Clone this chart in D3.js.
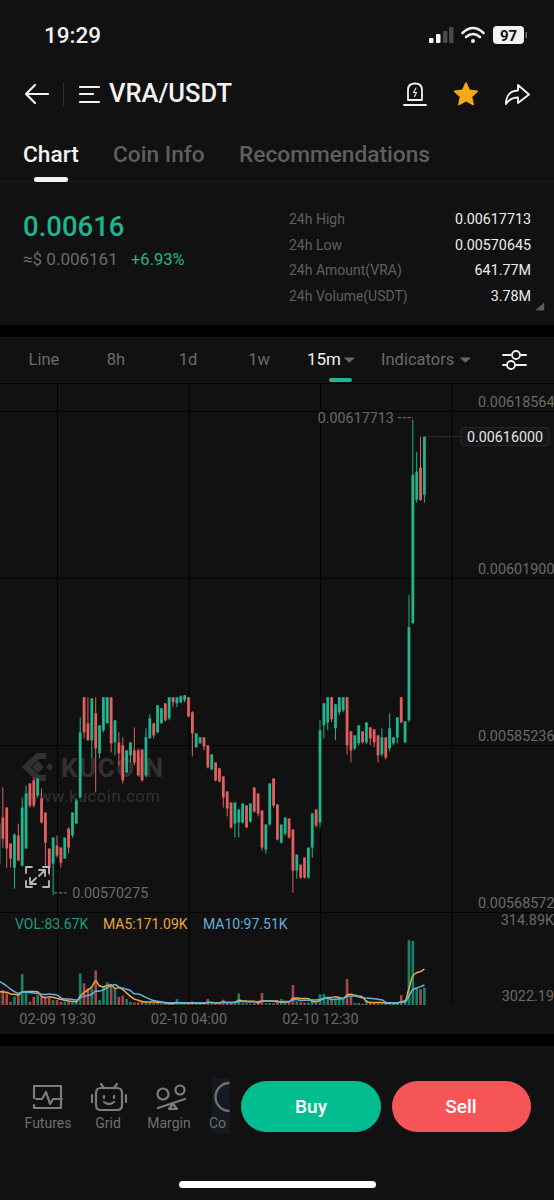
<!DOCTYPE html>
<html>
<head>
<meta charset="utf-8">
<script src="https://cdn.jsdelivr.net/npm/d3@7"></script>
<style>
  html, body { margin: 0; padding: 0; background: #111112; }
  svg { display: block; font-family: Roboto, sans-serif; }
</style>
</head>
<body>
<svg id="Target" width="554" height="1200"></svg>
<script>
// 15m candles, 02-09 15:45 to 02-10 19:15
const firstBar = "02-09 15:45";

const opens = [
  0.005734,0.005780,0.005790,0.005754,0.005730,0.005762,0.005732,0.005749,0.005814,0.005817,0.005802,0.005799,0.005785,0.005749,0.005734,
  0.005752,0.005750,0.005739,0.005769,0.005762,0.005774,0.005800,0.005900,0.005874,0.005857,0.005884,0.005844,0.005867,0.005874,0.005900,
  0.005855,0.005855,0.005852,0.005825,0.005842,0.005847,0.005847,0.005848,0.005822,0.005859,0.005874,0.005865,0.005874,0.005894,0.005879,
  0.005900,0.005894,0.005895,0.005897,0.005900,0.005885,0.005850,0.005854,0.005860,0.005852,0.005828,0.005835,0.005829,0.005821,0.005806,
  0.005795,0.005774,0.005775,0.005775,0.005792,0.005776,0.005810,0.005804,0.005787,0.005748,0.005773,0.005819,0.005793,0.005755,0.005764,
  0.005779,0.005768,0.005727,0.005733,0.005740,0.005720,0.005750,0.005788,0.005775,0.005872,0.005875,0.005900,0.005869,0.005885,0.005887,
  0.005900,0.005866,0.005849,0.005854,0.005866,0.005855,0.005870,0.005868,0.005862,0.005843,0.005860,0.005849,0.005854,0.005860,0.005900,
  0.005855,0.005877,0.005974,0.006097,0.006129,0.006102
];
const highs = [
  0.005784,0.005810,0.005790,0.005754,0.005764,0.005774,0.005800,0.005812,0.005814,0.005820,0.005819,0.005809,0.005785,0.005749,0.005760,
  0.005762,0.005750,0.005760,0.005770,0.005785,0.005799,0.005880,0.005900,0.005900,0.005899,0.005900,0.005872,0.005900,0.005900,0.005900,
  0.005877,0.005865,0.005860,0.005847,0.005855,0.005870,0.005849,0.005848,0.005869,0.005883,0.005874,0.005892,0.005889,0.005894,0.005900,
  0.005900,0.005900,0.005902,0.005902,0.005900,0.005886,0.005864,0.005860,0.005860,0.005852,0.005843,0.005835,0.005829,0.005821,0.005806,
  0.005795,0.005795,0.005788,0.005794,0.005792,0.005794,0.005810,0.005804,0.005787,0.005773,0.005814,0.005819,0.005793,0.005773,0.005780,
  0.005779,0.005768,0.005743,0.005733,0.005740,0.005750,0.005784,0.005788,0.005877,0.005894,0.005900,0.005900,0.005893,0.005900,0.005900,
  0.005900,0.005866,0.005862,0.005872,0.005866,0.005875,0.005870,0.005868,0.005862,0.005869,0.005860,0.005884,0.005860,0.005880,0.005900,
  0.005876,0.006002,0.00617713,0.006145,0.006160,0.006160
];
const lows = [
  0.005723,0.005750,0.005730,0.005730,0.005709,0.005737,0.005731,0.005749,0.005790,0.005790,0.005800,0.005774,0.005730,0.005722,0.00570275,
  0.005740,0.005730,0.005739,0.005744,0.005760,0.005774,0.005800,0.005859,0.005857,0.005839,0.005805,0.005839,0.005865,0.005874,0.005845,
  0.005842,0.005832,0.005814,0.005824,0.005835,0.005832,0.005822,0.005816,0.005820,0.005859,0.005859,0.005864,0.005874,0.005876,0.005877,
  0.005890,0.005890,0.005894,0.005895,0.005880,0.005841,0.005850,0.005854,0.005847,0.005829,0.005827,0.005816,0.005815,0.005790,0.005781,
  0.005769,0.005760,0.005760,0.005774,0.005770,0.005775,0.005785,0.005781,0.005747,0.005744,0.005772,0.005790,0.005757,0.005754,0.005762,
  0.005759,0.005705,0.005719,0.005719,0.005719,0.005719,0.005740,0.005770,0.005770,0.005859,0.005867,0.005875,0.005857,0.005882,0.005885,
  0.005843,0.005835,0.005847,0.005852,0.005854,0.005853,0.005852,0.005850,0.005835,0.005841,0.005838,0.005846,0.005852,0.005854,0.005874,
  0.005854,0.005875,0.005973,0.006094,0.006096,0.006094
];
const closes = [
  0.005774,0.005759,0.005749,0.005739,0.005763,0.005737,0.005790,0.005804,0.005792,0.005792,0.005819,0.005775,0.005755,0.005730,0.005760,
  0.005742,0.005735,0.005760,0.005750,0.005785,0.005797,0.005865,0.005865,0.005857,0.005899,0.005849,0.005872,0.005900,0.005900,0.005854,
  0.005877,0.005844,0.005817,0.005847,0.005855,0.005835,0.005822,0.005817,0.005860,0.005879,0.005862,0.005892,0.005889,0.005877,0.005900,
  0.005895,0.005900,0.005901,0.005902,0.005881,0.005864,0.005864,0.005860,0.005851,0.005830,0.005843,0.005817,0.005816,0.005800,0.005789,
  0.005770,0.005795,0.005788,0.005794,0.005770,0.005794,0.005786,0.005784,0.005750,0.005773,0.005814,0.005792,0.005758,0.005773,0.005780,
  0.005760,0.005727,0.005743,0.005720,0.005720,0.005750,0.005784,0.005772,0.005867,0.005894,0.005900,0.005878,0.005893,0.005900,0.005900,
  0.005852,0.005847,0.005862,0.005872,0.005855,0.005875,0.005859,0.005855,0.005842,0.005860,0.005840,0.005869,0.005860,0.005880,0.005875,
  0.005876,0.005970,0.006122,0.006125,0.006097,0.006160
];

// volume per bar, thousands
const volumes = [
  73,73,56,16,40,56,150,65,16,40,48,40,36,36,24,
  24,16,16,16,13,16,153,105,81,81,168,24,89,110,97,
  81,40,45,29,16,13,13,16,16,16,10,10,6,6,6,5,
  29,5,5,6,16,8,6,8,29,8,6,5,26,13,10,10,
  56,10,8,6,10,13,58,8,10,8,
  13,29,10,13,97,19,16,13,13,24,13,52,
  53,40,24,32,32,29,126,40,10,10,6,24,
  13,10,8,8,6,10,6,10,48,24,
  314.89,310,84,77,83.67
];
// bars just left of the screen, needed for the moving averages
const volumesBefore = [190,180,170,160,139,80,65,55,50];

const priceTicks = [0.00568572, 0.00585236, 0.00601900, 0.00618564];
const timeTicks = ["02-09 19:30", "02-10 04:00", "02-10 12:30", "02-10 21:00"];
const volumeLabels = ["314.89K", "3022.19"];
const lastPrice = 0.00616;

const statLabels = ["24h High", "24h Low", "24h Amount(VRA)", "24h Volume(USDT)"];
const statValues = ["0.00617713", "0.00570645", "641.77M", "3.78M"];

const green = "#1fb58f", red = "#e25f5f";
const volGreen = "#15826a", volRed = "#a5484a";
const grey = "#6a6a6a", gridColor = "#000000";

const svg = d3.select("#Target");
const parseTime = d3.utcParse("%m-%d %H:%M");
const formatTime = d3.utcFormat("%m-%d %H:%M");

const label = (x, y, str, size, fill, anchor = "start", weight = 400) =>
  svg.append("text")
    .attr("x", x).attr("y", y)
    .attr("font-size", size)
    .attr("font-weight", weight)
    .attr("fill", fill)
    .attr("text-anchor", anchor)
    .text(str);

const icon = (d, stroke, width = 2, fill = "none") =>
  svg.append("path")
    .attr("d", d)
    .attr("fill", fill)
    .attr("stroke", stroke)
    .attr("stroke-width", width)
    .attr("stroke-linecap", "round")
    .attr("stroke-linejoin", "round");

// Bands
svg.append("rect").attr("width", 554).attr("height", 1200).attr("fill", "#111112");
svg.append("rect").attr("y", 325).attr("width", 554).attr("height", 12).attr("fill", "#000");
svg.append("rect").attr("y", 1034).attr("width", 554).attr("height", 12).attr("fill", "#000");
svg.append("rect").attr("y", 181).attr("width", 554).attr("height", 1).attr("fill", "#1b1b1c");

// Status bar
label(44, 43, "19:29", 22.5, "#f2f2f2", "start", 500);
[[429, 5], [436, 9], [443, 12], [449, 16]].forEach(([x, h], i) => {
  svg.append("rect").attr("x", x).attr("y", 43 - h).attr("width", 4.5).attr("height", h)
    .attr("rx", 1).attr("fill", i < 2 ? "#f2f2f2" : "#4a4a4a");
});
icon("M462.5 33 Q473 23 483.5 33 M466 37 Q473 31 480 37", "#f2f2f2", 2.6);
svg.append("circle").attr("cx", 473).attr("cy", 41).attr("r", 2).attr("fill", "#f2f2f2");
svg.append("rect").attr("x", 493).attr("y", 26).attr("width", 31).attr("height", 18).attr("rx", 4).attr("fill", "#f2f2f2");
svg.append("rect").attr("x", 525.5).attr("y", 32).attr("width", 1.5).attr("height", 6).attr("fill", "#777");
label(508.5, 41, "97", 15, "#111", "middle", 700);

// Title row
icon("M48 94 H26 M35 85 L26 94 L35 103", "#f2f2f2", 2.2);
svg.append("rect").attr("x", 63).attr("y", 82).attr("width", 1).attr("height", 24).attr("fill", "#2a2a2a");
icon("M80 87 H99 M80 94 H93 M80 102 H99", "#f2f2f2", 2.2);
label(109, 102, "VRA/USDT", 25.5, "#f4f4f4", "start", 500);
icon("M408 100 V90 Q408 83.5 415 83.5 Q422 83.5 422 90 V100 Z M404 105 H426", "#f2f2f2", 1.8);
icon("M416 88 L413.5 92.5 H416.5 L414.5 96.5", "#f2f2f2", 1.1);
icon("M466 83 L469.4 90.2 L477.4 91.2 L471.5 96.6 L473.1 104.6 L466 100.6 L458.9 104.6 L460.5 96.6 L454.6 91.2 L462.6 90.2 Z",
  "#f6aa12", 1.5, "#f6aa12");
icon("M506 104 C506 95 511 90.5 518 90.5 V85 L529 94.5 L518 103 V97.5 C513 97.5 509 99.5 506 104 Z", "#f2f2f2", 1.9);

// Top tabs
label(23, 162, "Chart", 22.7, "#f4f4f4", "start", 500);
label(113, 162, "Coin Info", 22.7, "#5f5f5f", "start", 500);
label(239, 162, "Recommendations", 22.7, "#5f5f5f", "start", 500);
svg.append("rect").attr("x", 34).attr("y", 177).attr("width", 34).attr("height", 5).attr("rx", 2.5).attr("fill", "#f4f4f4");

// Price block
label(23, 236, "0.00616", 27.5, green, "start", 500);
label(23, 265, "≈$ 0.006161", 17, grey);
label(131, 265, "+6.93%", 16.5, green);
const statY = d3.scalePoint().domain(statLabels).range([224, 301]);
statLabels.forEach((s, i) => {
  label(289, statY(s), s, 14, "#5f5f5f");
  label(531, statY(s), statValues[i], 14.3, "#ececec", "end");
});
icon("M536 310 L544 303 V310 Z", "#5c5f68", 0.5, "#5c5f68");

// Interval tabs
label(44, 365, "Line", 16.5, grey, "middle");
label(116, 365, "8h", 16.5, grey, "middle");
label(188, 365, "1d", 16.5, grey, "middle");
label(259, 365, "1w", 16.5, grey, "middle");
label(307, 365, "15m", 17, "#f2f2f2");
icon("M345 358 H354 L349.5 362 Z", grey, 1, grey);
label(381, 365, "Indicators", 16.5, grey);
icon("M461 358 H470 L465.5 362 Z", grey, 1, grey);
svg.append("rect").attr("x", 329).attr("y", 378).attr("width", 23).attr("height", 4).attr("rx", 2).attr("fill", green);
icon("M503 355 H511 M521 355 H526 M503 365 H506 M516 365 H526", "#f2f2f2", 1.8);
svg.append("circle").attr("cx", 516).attr("cy", 355).attr("r", 4).attr("fill", "none").attr("stroke", "#f2f2f2").attr("stroke-width", 1.8);
svg.append("circle").attr("cx", 511).attr("cy", 365).attr("r", 4).attr("fill", "none").attr("stroke", "#f2f2f2").attr("stroke-width", 1.8);

// Bars and scales
const bars = opens.map((open, i) => ({
  time: d3.utcMinute.offset(parseTime(firstBar), i * 15),
  open, high: highs[i], low: lows[i], close: closes[i], volume: volumes[i]
}));
const isUp = (d) => d.close >= d.open;

const x = d3.scaleUtc()
  .domain([parseTime(timeTicks[0]), parseTime(timeTicks[2])])
  .range([57, 320]);
const y = d3.scaleLinear()
  .domain([priceTicks[0], priceTicks[3]])
  .range([912, 411]);
const yVol = d3.scaleLinear()
  .domain([0, d3.max(volumes)])
  .range([1005, 940]);

// Grid comes from the axes
const lastTime = bars[bars.length - 1].time;
const timeAxis = svg.append("g")
  .attr("transform", "translate(0,1005)")
  .call(d3.axisBottom(x)
    .tickValues(timeTicks.map(parseTime))
    .tickSize(-621)
    .tickFormat((d) => d > lastTime ? "" : formatTime(d)));
timeAxis.select(".domain").attr("stroke", gridColor);
timeAxis.selectAll("line").attr("stroke", gridColor);
timeAxis.selectAll("text")
  .attr("y", 9)
  .attr("font-size", 14.5)
  .attr("font-family", "Roboto")
  .attr("fill", grey);

const priceAxis = svg.append("g")
  .attr("transform", "translate(554,0)")
  .call(d3.axisLeft(y)
    .tickValues(priceTicks)
    .tickSize(554)
    .tickFormat(d3.format(".8f")));
priceAxis.select(".domain").remove();
priceAxis.selectAll("line").attr("stroke", gridColor);
priceAxis.selectAll("text")
  .attr("x", 0.5)
  .attr("dy", -5)
  .attr("font-size", 14.4)
  .attr("font-family", "Roboto")
  .attr("fill", grey);

svg.append("rect").attr("y", 383).attr("width", 554).attr("height", 1).attr("fill", gridColor);

// Watermark
const mark = svg.append("g").attr("opacity", 0.16);
mark.append("path")
  .attr("d", "M46 756 H38 L26 767 L38 778 H46 M38 767 H38.1")
  .attr("fill", "none")
  .attr("stroke", "#d8d8d8")
  .attr("stroke-width", 6)
  .attr("stroke-linejoin", "miter");
mark.append("path")
  .attr("d", "M38 761 L44 767 L38 773 L32 767 Z M46 767 L50 763 L53 767 L50 771 Z")
  .attr("fill", "#d8d8d8");
mark.append("text").attr("x", 61).attr("y", 777).attr("font-size", 26).attr("font-weight", 700).attr("letter-spacing", 1.5).attr("fill", "#d8d8d8").text("KUCOIN");
mark.append("text").attr("x", 26).attr("y", 802).attr("font-size", 16.5).attr("letter-spacing", 0.6).attr("fill", "#d8d8d8").text("www.kucoin.com");

// Candles
svg.append("g").selectAll("line")
  .data(bars)
  .join("line")
  .attr("x1", (d) => x(d.time))
  .attr("x2", (d) => x(d.time))
  .attr("y1", (d) => y(d.high))
  .attr("y2", (d) => y(d.low))
  .attr("stroke", (d) => isUp(d) ? green : red)
  .attr("stroke-width", 1);

svg.append("g").selectAll("rect")
  .data(bars)
  .join("rect")
  .attr("x", (d) => x(d.time) - 1.4)
  .attr("width", 2.8)
  .attr("y", (d) => y(Math.max(d.open, d.close)))
  .attr("height", (d) => Math.max(1, Math.abs(y(d.open) - y(d.close))))
  .attr("fill", (d) => isUp(d) ? green : red);

// Expand icon
icon("M26 873 V867 H32 M43 867 H49 V873 M26 881 V887 H32 M49 881 V887 H43 M30 884 L36 878 M30 878 V884 H36 M45 870 L39 876 M39 870 H45 V876",
  "#b9b9b9", 1.8);

// High / low annotations, dashed leader plus value
const highBar = bars[d3.greatestIndex(bars, (d) => d.high)];
const lowBar = bars[d3.leastIndex(bars, (d) => d.low)];
const leader = (x1, x2, yPos) =>
  svg.append("line")
    .attr("x1", x1).attr("x2", x2)
    .attr("y1", yPos).attr("y2", yPos)
    .attr("stroke", grey)
    .attr("stroke-width", 1.3)
    .attr("stroke-dasharray", "3.2 1.6");
leader(x(highBar.time) - 15, x(highBar.time), y(highBar.high) - 2);
leader(x(lowBar.time) + 1, x(lowBar.time) + 15, y(lowBar.low) - 2);
label(x(highBar.time) - 19, y(highBar.high) + 3, d3.format(".8f")(highBar.high), 14.3, grey, "end");
label(x(lowBar.time) + 19, y(lowBar.low) + 3, d3.format(".8f")(lowBar.low), 14.3, grey);

// Last price tag
svg.append("line")
  .attr("x1", x(lastTime) + 1).attr("x2", 461)
  .attr("y1", y(lastPrice)).attr("y2", y(lastPrice))
  .attr("stroke", "#6a6a6a").attr("stroke-dasharray", "1 2");
svg.append("rect")
  .attr("x", 461).attr("y", y(lastPrice) - 9)
  .attr("width", 88).attr("height", 18).attr("rx", 3)
  .attr("fill", "#161616").attr("stroke", "#2b2b2b");
label(505, y(lastPrice) + 5, d3.format(".8f")(lastPrice), 14.3, "#e4e4e4", "middle");

// Volume pane
const allVolumes = volumesBefore.concat(volumes);
const movingAverage = (n) => bars.map((d, i) => {
  const end = i + volumesBefore.length + 1;
  return { time: d.time, value: d3.mean(allVolumes.slice(end - n, end)) };
});
const ma5 = movingAverage(5);
const ma10 = movingAverage(10);

svg.append("g").selectAll("rect")
  .data(bars)
  .join("rect")
  .attr("x", (d) => x(d.time) - 1.3)
  .attr("width", 2.6)
  .attr("y", (d) => yVol(d.volume))
  .attr("height", (d) => yVol(0) - yVol(d.volume))
  .attr("fill", (d) => isUp(d) ? volGreen : volRed);

const maLine = d3.line()
  .x((d) => x(d.time))
  .y((d) => yVol(d.value))
  .curve(d3.curveMonotoneX);

svg.append("path").datum(ma5).attr("d", maLine).attr("fill", "none").attr("stroke", "#f0a93f").attr("stroke-width", 1.5);
svg.append("path").datum(ma10).attr("d", maLine).attr("fill", "none").attr("stroke", "#66b2e4").attr("stroke-width", 1.5);

label(15, 929, "VOL:83.67K", 14, "#1f9c80");
label(103, 929, "MA5:171.09K", 14, "#e8a53e");
label(203, 929, "MA10:97.51K", 14, "#62acdc");
label(554, 925, volumeLabels[0], 14.4, grey, "end");
label(554, 1001, volumeLabels[1], 14.4, grey, "end");

// Bottom bar
const navLabels = ["Futures", "Grid", "Margin"];
const navX = [48, 108, 169];
navLabels.forEach((s, i) => label(navX[i], 1128, s, 14, "#6f6f6f", "middle"));
icon("M34 1098 V1086 H61 V1108 H34 V1105 M36 1099 H42 L46 1092 L50 1104 L53 1099 H62", "#7c7c7c", 2.2);
icon("M96 1093 Q96 1088 101 1088 H117 Q122 1088 122 1093 V1105 Q122 1110 117 1110 H101 Q96 1110 96 1105 Z M104 1088 L101 1084 M114 1088 L117 1084 M92 1095 V1102 M126 1095 V1102 M104 1096 V1098 M114 1096 V1098 M104 1102 Q109 1106 114 1102",
  "#7c7c7c", 2.2);
icon("M158 1108 L185 1099 M169 1109 H177 L173 1104 Z", "#7c7c7c", 2.2);
svg.append("circle").attr("cx", 163).attr("cy", 1094).attr("r", 5.5).attr("fill", "none").attr("stroke", "#7c7c7c").attr("stroke-width", 2.2);
svg.append("circle").attr("cx", 180).attr("cy", 1090).attr("r", 4.5).attr("fill", "none").attr("stroke", "#7c7c7c").attr("stroke-width", 2.2);
svg.append("rect").attr("x", 212).attr("y", 1078).attr("width", 18).attr("height", 56).attr("fill", "#151a22");
icon("M229.5 1083 A14 14 0 0 0 229.5 1111", "#6f6f6f", 2.4).attr("stroke-linecap", "butt");
label(209, 1128, "Co", 14, "#6f6f6f");

svg.append("rect").attr("x", 241).attr("y", 1081).attr("width", 140).attr("height", 51).attr("rx", 25.5).attr("fill", "#02bd8f");
svg.append("rect").attr("x", 392).attr("y", 1081).attr("width", 139).attr("height", 51).attr("rx", 25.5).attr("fill", "#f65558");
label(311, 1113, "Buy", 19, "#fff", "middle", 500);
label(461, 1113, "Sell", 19, "#fff", "middle", 500);
svg.append("rect").attr("x", 179).attr("y", 1181).attr("width", 197).attr("height", 7).attr("rx", 3.5).attr("fill", "#fff");
</script>
</body>
</html>
